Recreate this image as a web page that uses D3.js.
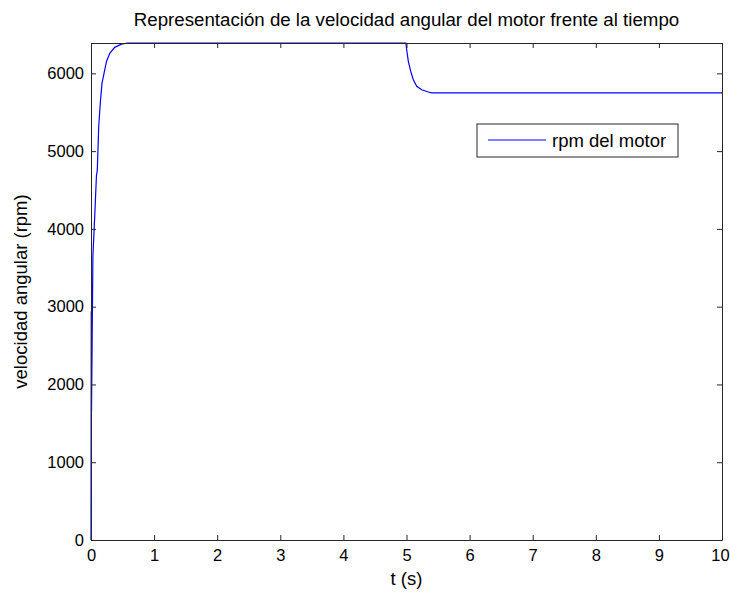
<!DOCTYPE html>
<meta charset="utf-8">
<style>
  body { margin: 0; background: #fff; }
  text { font-family: "Liberation Sans", Arial, sans-serif; fill: #000; }
  .tick text { font-size: 16.5px; }
  .title { font-size: 18.7px; }
  .lbl { font-size: 18.5px; }
</style>
<body>
<script src="https://d3js.org/d3.v7.min.js"></script>
<script>

// data
var tiempo = [0, 0.004, 0.008, 0.03, 0.06, 0.086, 0.10, 0.122, 0.149, 0.174, 0.217, 0.244,
  0.297, 0.376, 0.482, 0.58, 4.99, 5.003, 5.029, 5.067, 5.108, 5.162, 5.241, 5.346, 5.40, 10];
var rpm = [0, 2940, 1650, 3645, 4180, 4680, 4758, 5314, 5635, 5871, 6042, 6149,
  6257, 6334, 6376, 6390, 6390, 6303, 6154, 6026, 5918, 5833, 5789, 5760, 5750, 5750];
var xTicks = [0, 1, 2, 3, 4, 5, 6, 7, 8, 9, 10];
var yTicks = [0, 1000, 2000, 3000, 4000, 5000, 6000];

var margin = { top: 43, right: 8, bottom: 52, left: 91 },
  width = 730 - margin.left - margin.right,
  height = 592 - margin.top - margin.bottom;

var svg = d3.select("body").append("svg")
  .attr("width", 730)
  .attr("height", 592);

var g = svg.append("g")
  .attr("transform", "translate(" + margin.left + "," + margin.top + ")");

var x = d3.scaleLinear().domain([0, 10]).range([0, width]);
var y = d3.scaleLinear().domain([0, 6390]).range([height, 0]);

// the curve
var pts = tiempo.map(function (t, i) { return [t, rpm[i]]; });
g.append("path")
  .datum(pts)
  .attr("fill", "none")
  .attr("stroke", "#0000ff")
  .attr("stroke-width", 1.2)
  .attr("d", d3.line().x(function (d) { return x(d[0]); }).y(function (d) { return y(d[1]); }));

// axes, ticks pointing inward on all sides
function styleAxis(sel) {
  sel.select(".domain").attr("stroke", "#262626");
  sel.selectAll(".tick line").attr("stroke", "#262626");
}
var xAxis = g.append("g")
  .attr("transform", "translate(0," + height + ")")
  .call(d3.axisBottom(x).tickValues(xTicks).tickSize(-5).tickPadding(9).tickSizeOuter(0))
  .call(styleAxis);
// keep the last label inside the window
xAxis.selectAll(".tick text").filter(function (d) { return d === 10; }).attr("dx", -2);

g.append("g")
  .call(d3.axisTop(x).tickValues(xTicks).tickSize(-5).tickFormat("").tickSizeOuter(0))
  .call(styleAxis);
g.append("g")
  .call(d3.axisLeft(y).tickValues(yTicks).tickFormat(d3.format("d")).tickSize(-5).tickPadding(7).tickSizeOuter(0))
  .call(styleAxis);
g.append("g")
  .attr("transform", "translate(" + width + ",0)")
  .call(d3.axisRight(y).tickValues(yTicks).tickSize(-5).tickFormat("").tickSizeOuter(0))
  .call(styleAxis);

// title and labels
svg.append("text")
  .attr("class", "title")
  .attr("x", margin.left + width / 2)
  .attr("y", 26)
  .attr("text-anchor", "middle")
  .text("Representación de la velocidad angular del motor frente al tiempo");

svg.append("text")
  .attr("class", "lbl")
  .attr("x", margin.left + width / 2)
  .attr("y", 585)
  .attr("text-anchor", "middle")
  .text("t (s)");

svg.append("text")
  .attr("class", "lbl")
  .attr("transform", "translate(27," + (margin.top + height / 2) + ") rotate(-90)")
  .attr("text-anchor", "middle")
  .text("velocidad angular (rpm)");

// legend
var leg = svg.append("g");
leg.append("rect")
  .attr("x", 477).attr("y", 124)
  .attr("width", 201).attr("height", 33)
  .attr("fill", "#fff").attr("stroke", "#262626");
leg.append("line")
  .attr("x1", 488).attr("x2", 546)
  .attr("y1", 140).attr("y2", 140)
  .attr("stroke", "#0000ff").attr("stroke-width", 1.2);
leg.append("text")
  .attr("class", "lbl")
  .attr("x", 552).attr("y", 147)
  .text("rpm del motor");

</script>
</body>
